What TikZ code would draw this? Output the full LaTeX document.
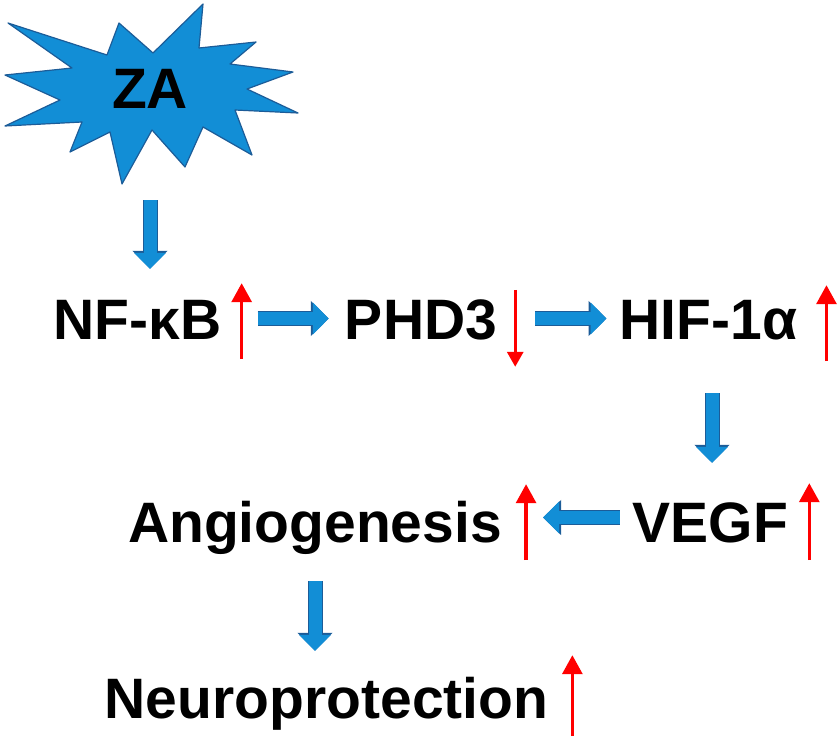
\documentclass[tikz,border=0pt]{standalone}
\usepackage{fontspec}
\setmainfont{Liberation Sans}
\usepackage{tikz}
\usetikzlibrary{arrows.meta}
\definecolor{zablue}{RGB}{18,142,214}
\definecolor{zaedge}{RGB}{28,92,152}

\begin{document}
\begin{tikzpicture}[x=1pt, y=-1pt]
  \tikzset{
    gene/.style={font=\fontsize{57}{60}\selectfont\bfseries, inner sep=0pt,
      text height=41pt, text depth=0pt, anchor=base},
    fat/.style={zablue, line width=13pt, -{Triangle[width=31pt,length=16pt]},
      preaction={draw=zaedge, line width=15pt, -{Triangle[width=34pt,length=18pt]}}},
    upred/.style={red, line width=3.2pt, -{Triangle[width=20pt,length=19pt]}},
    downred/.style={red, line width=3pt, -{Triangle[width=16pt,length=15pt]}}
  }
  \useasboundingbox (0,0) rectangle (840,736);

  % the burst
  \draw[fill=zablue, draw=zaedge, line width=1.2pt, line join=round]
    (8,23) -- (107,55) -- (119,23) -- (153,53) -- (203,4) -- (199,48)
    -- (256,42) -- (230,64) -- (293,72) -- (247,89) -- (298,113) -- (235,110)
    -- (252,155) -- (203,127) -- (185,167) -- (152,130) -- (122,184) -- (110,132)
    -- (70,152) -- (82,122) -- (5,126) -- (60,100) -- (5,75) -- (72,68) -- cycle;
  \node[gene] (za) at (150,108) {ZA};
  \coordinate (za-tail) at (150,200);

  \node[gene] (nfkb) at (137.5,339) {NF-κB};
  \node[gene] (phd) at (421,339) {PHD3};
  \node[gene] (hif) at (708.5,339) {HIF-1α};
  \node[gene] (vegf) at (710.5,542) {VEGF};
  \node[gene] (angio) at (315,542) {Angiogenesis};
  \node[gene] (neuro) at (326.5,718) {Neuroprotection};

  \draw[fat] (za-tail) -- ([xshift=12.5pt,yshift=29pt]nfkb.north);
  \draw[fat, shorten <=36pt, shorten >=16pt] (nfkb) -- (phd);
  \draw[fat, shorten <=38pt, shorten >=13pt] (phd) -- (hif);
  \draw[fat, shorten <=54pt, shorten >=38pt] ([xshift=3.5pt]hif.south) -- ([xshift=1.5pt]vegf.north);
  \draw[fat, shorten <=13pt, shorten >=41pt] ([yshift=4pt]vegf.west) -- ([yshift=4pt]angio.east);
  \draw[fat, shorten <=39pt, shorten >=26pt] (angio.south) -- (angio.south |- neuro.north);

  \draw[upred] ([xshift=20pt,yshift=-20pt]nfkb.south east) -- ++(0,-76);
  \draw[downred] ([xshift=18pt,yshift=8pt]phd.north east) -- ++(0,77);
  \draw[upred] ([xshift=29pt,yshift=-22pt]hif.south east) -- ++(0,-76);
  \draw[upred] ([xshift=24pt,yshift=-18pt]angio.south east) -- ++(0,-76);
  \draw[upred] ([xshift=21pt,yshift=-18pt]vegf.south east) -- ++(0,-77);
  \draw[upred] ([xshift=24pt,yshift=-18pt]neuro.south east) -- ++(0,-81);
\end{tikzpicture}
\end{document}
